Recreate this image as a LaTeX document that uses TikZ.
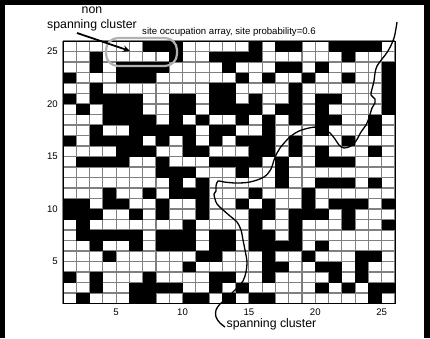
\documentclass[tikz,border=0pt]{standalone}
\usepackage{fontspec}
\setmainfont{Liberation Sans}
\usetikzlibrary{arrows.meta}
\begin{document}
\begin{tikzpicture}[x=1pt,y=-1pt,
  gridline/.style={draw=black!50,line width=1.1pt},
  ticklbl/.style={font=\fontsize{9.6}{9.6}\selectfont,inner sep=0pt},
  annot/.style={font=\fontsize{12.3}{12.3}\selectfont,inner sep=0pt},
  ringbox/.style={draw=black!30,line width=2.2pt,rounded corners=12pt,minimum width=71pt,minimum height=28pt,inner sep=0pt},
  pointer/.style={line width=1.8pt,-{Stealth[length=7pt,width=6.5pt]}},
  pathline/.style={line width=1.3pt}]
\useasboundingbox (0,0) rectangle (430,338);
\fill[black] (0,0) rectangle (430,338);
\fill[white] (5,5) rectangle (424,338);
\def\ox{63}\def\oy{41}\def\cw{13.28}\def\ch{10.5}
% grid lines
\foreach \k in {0,...,25}{
  \draw[gridline] (\ox+\k*\cw,\oy) -- (\ox+\k*\cw,\oy+25*\ch);
  \draw[gridline] (\ox,\oy+\k*\ch) -- (\ox+25*\cw,\oy+\k*\ch);
}
% occupied sites
\foreach \r/\bits in {
 1/{0,0,0,0,0,0,1,1,1,0,0,0,0,0,1,0,1,1,0,0,1,1,1,1,0},
 2/{0,0,1,0,0,0,0,0,1,0,0,1,1,1,1,0,0,0,0,0,0,1,0,0,0},
 3/{0,0,1,0,1,1,1,1,0,0,0,0,1,0,0,0,1,1,0,1,0,0,0,0,1},
 4/{1,0,0,0,1,1,1,0,0,0,0,0,0,1,0,1,0,0,1,0,0,1,0,0,1},
 5/{0,0,1,0,0,0,0,0,0,0,0,1,1,0,0,0,0,1,0,0,0,0,0,0,1},
 6/{1,0,1,1,1,1,0,0,1,1,0,1,1,0,1,0,0,1,0,1,1,0,0,0,1},
 7/{0,1,0,1,1,1,0,0,1,1,0,1,1,1,1,0,1,1,0,1,0,0,0,0,1},
 8/{0,0,0,1,1,1,1,0,1,0,1,0,0,1,0,1,0,1,0,1,1,0,0,1,0},
 9/{0,0,1,0,0,1,1,1,1,1,0,1,1,0,0,1,0,0,0,1,0,0,0,1,0},
10/{1,0,1,1,1,1,0,1,0,1,0,1,0,1,1,1,0,1,0,0,0,1,0,0,0},
11/{0,0,0,0,1,1,1,0,0,1,1,0,0,0,1,1,0,1,0,1,0,0,0,1,0},
12/{0,1,1,1,1,0,0,1,0,0,0,1,1,1,1,0,1,0,0,1,1,1,0,0,0},
13/{0,0,0,0,0,0,0,1,1,1,0,0,0,1,0,0,1,0,0,0,0,0,0,0,0},
14/{0,0,0,0,0,0,0,0,1,0,1,0,0,0,0,0,1,0,0,1,1,1,0,1,0},
15/{0,0,0,1,0,0,1,0,1,1,1,0,0,0,1,0,0,0,1,0,0,0,0,0,0},
16/{1,1,0,1,1,0,0,1,0,0,1,0,0,1,0,1,0,0,1,0,1,1,1,0,1},
17/{1,1,1,0,0,1,0,1,0,0,1,0,0,0,1,1,0,1,1,1,0,1,0,0,0},
18/{0,1,0,0,0,0,0,0,0,1,0,0,0,0,1,0,0,1,0,0,0,1,0,0,1},
19/{0,1,1,1,1,1,0,1,1,1,0,1,1,0,1,1,0,1,0,0,0,0,0,0,0},
20/{0,0,1,0,0,1,0,1,1,1,0,1,1,0,1,1,1,1,0,1,0,0,0,0,0},
21/{0,0,0,1,0,0,0,0,0,0,1,1,0,0,0,1,0,0,1,0,0,0,1,1,0},
22/{0,0,0,0,0,0,0,0,0,1,0,0,0,0,0,1,1,0,0,1,1,0,1,0,0},
23/{1,0,1,0,0,0,1,0,0,0,0,1,1,0,0,1,0,0,0,0,1,0,1,0,0},
24/{0,0,1,0,0,1,1,1,1,0,0,1,0,1,0,0,0,0,0,1,0,1,0,1,1},
25/{0,1,0,0,0,1,1,0,0,1,1,0,1,0,1,1,0,0,0,0,0,0,0,1,0}}{
  \foreach \b [count=\c] in \bits {
    \ifnum\b=1 \fill[black] (\ox+\c*\cw-\cw,\oy+\r*\ch-\ch) rectangle ++(\cw,\ch);\fi
  }
}
\draw[black,line width=0.8pt] (\ox,\oy) rectangle (\ox+25*\cw,\oy+25*\ch);
% tick labels
\foreach \v in {5,10,15,20,25}{
  \node[ticklbl,anchor=east] (y\v) at (58,\oy+26*\ch-\v*\ch) {\v};
  \node[ticklbl] (x\v) at (\ox+\v*\cw-\cw,312) {\v};
}
% title
\node[font=\fontsize{9.6}{9.6}\selectfont,inner sep=0pt,anchor=base] (title) at (229,34) {site occupation array, site probability=0.6};
% annotations
\node[annot,anchor=base] (non) at (92,13.5) {non};
\node[annot,anchor=base] (spantop) at (92,28.5) {spanning cluster};
\node[ringbox] (ring) at (141.5,52) {};
\coordinate (arrS) at (77,33);
\coordinate (arrE) at (130,51);
\draw[pointer] (arrS) -- (arrE);
\node[annot,anchor=base west] (spanbot) at (226.5,327.5) {spanning cluster};
\coordinate (pathTop) at (397,22);
\coordinate (pathEnd) at (225,327);
\draw[pathline] plot[smooth,tension=0.55] coordinates {
 (pathTop) (394,38) (388,51) (382,59) (377,66) (375,73) (374,81) (372,89) (371,95)
 (375,99) (375,103) (372,108) (369,118) (366,125) (361,132) (356,141) (351,146)
 (344,148) (339,145) (335,139) (330,133) (324,129) (317,127) (309,128) (299,131)
 (291,136) (285,142) (280,148) (277,153) (274,160) (271,169) (264,177) (250,182)
 (236,183) (224,182) (218,181) (216,186) (216,191) (214,194) (215,199) (217,204)
 (222,209) (230,216) (237,222) (241,230) (243,240) (245,250) (247,262) (246,272)
 (243,281) (237,288) (231,294) (226,299) (220,304) (216,310) (216,317) (220,323)
 (pathEnd)};
\end{tikzpicture}
\end{document}
